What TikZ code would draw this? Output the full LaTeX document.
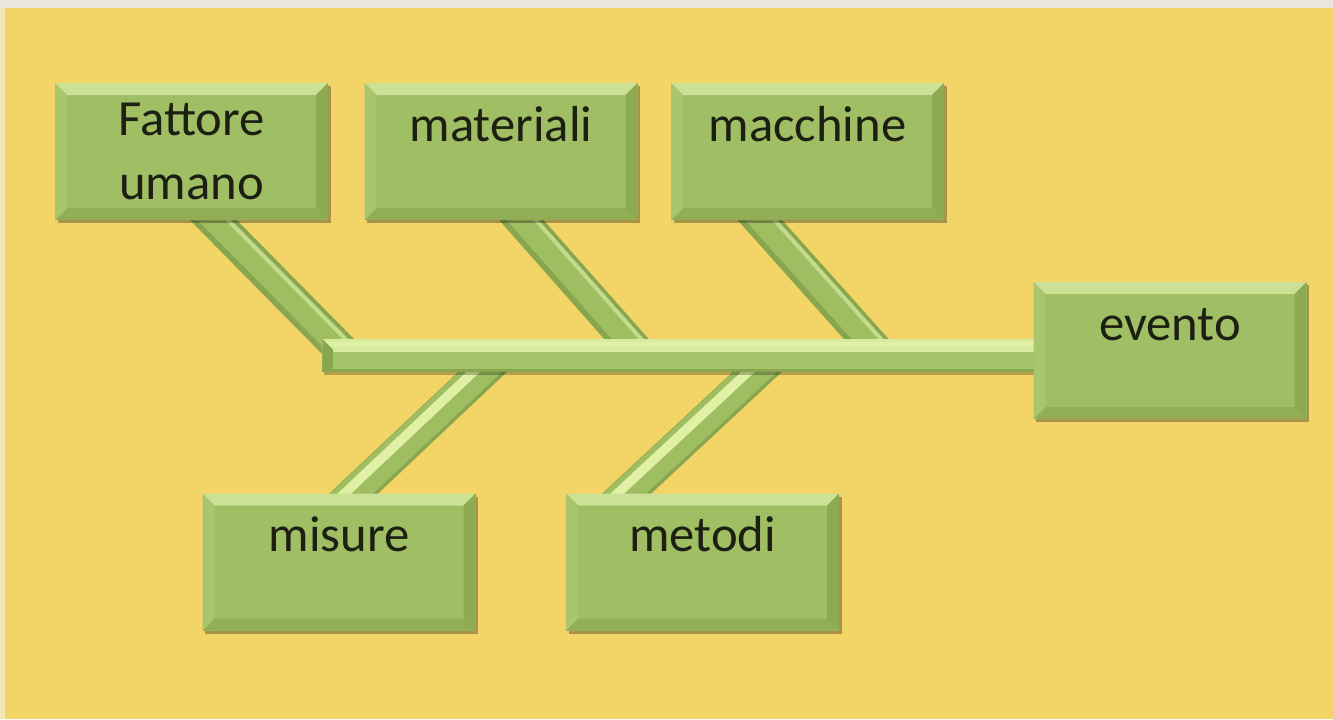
\documentclass[tikz,border=0pt]{standalone}
\usepackage{fontspec}
\setmainfont{Carlito}
\usetikzlibrary{positioning,calc,shadows,backgrounds}
\definecolor{fbyellow}{HTML}{F3D467}
\definecolor{fbgrey}{HTML}{E8E6DF}
\definecolor{fbpale}{HTML}{F4E6B4}
\definecolor{fbface}{HTML}{A0BE63}
\definecolor{fbtop}{HTML}{CBE195}
\definecolor{fbleft}{HTML}{A9C56D}
\definecolor{fbright}{HTML}{8DAA50}
\definecolor{fbbottom}{HTML}{91AE55}
\definecolor{fbtext}{HTML}{1C1F12}
\definecolor{bonedark}{HTML}{88A64D}
\definecolor{bonemid}{HTML}{9FBD61}
\definecolor{bonelight}{HTML}{C4DB8C}
\definecolor{bonepale}{HTML}{E0F1A6}
\definecolor{spinelight}{HTML}{D6EB9E}
\definecolor{spinemid}{HTML}{A5C368}
\pgfdeclarelayer{bones}
\pgfsetlayers{background,bones,main}

\begin{document}
\begin{tikzpicture}[
x=0.75pt,y=-0.75pt,
every node/.style={font=\fontsize{38}{48}\selectfont,text=fbtext},
box/.style={minimum width=204.75pt,minimum height=102.75pt,inner sep=0pt,align=center,fill=fbface,
  drop shadow={shadow xshift=2pt,shadow yshift=-2.5pt,opacity=.3,fill=black},
  path picture={
    \fill[fbtop] (path picture bounding box.north west) -- (path picture bounding box.north east)
      -- ++(-9pt,-9pt) -- ([xshift=9pt,yshift=-9pt]path picture bounding box.north west) -- cycle;
    \fill[fbbottom] (path picture bounding box.south west) -- (path picture bounding box.south east)
      -- ++(-9pt,9pt) -- ([xshift=9pt,yshift=9pt]path picture bounding box.south west) -- cycle;
    \fill[fbleft] (path picture bounding box.north west) -- ++(9pt,-9pt)
      -- ([xshift=9pt,yshift=9pt]path picture bounding box.south west) -- (path picture bounding box.south west) -- cycle;
    \fill[fbright] (path picture bounding box.north east) -- ++(-9pt,-9pt)
      -- ([xshift=-9pt,yshift=9pt]path picture bounding box.south east) -- (path picture bounding box.south east) -- cycle;
  }},
toptext/.style={text height=43.5pt,text depth=59.25pt},
spine/.style={minimum width=534.75pt,minimum height=24.75pt,inner sep=0pt,fill=spinemid,
  drop shadow={shadow xshift=1pt,shadow yshift=-2pt,opacity=.25,fill=black},
  path picture={
    \fill[spinelight] (path picture bounding box.north west) rectangle ([yshift=-10pt]path picture bounding box.north east);
    \fill[bonepale] ([yshift=-2pt]path picture bounding box.north west) rectangle ([yshift=-5pt]path picture bounding box.north east);
    \fill[bonedark] (path picture bounding box.south west) rectangle ([yshift=2pt]path picture bounding box.south east);
    \fill[bonedark] (path picture bounding box.north west) -- ++(8pt,-8pt)
      -- ([xshift=8pt,yshift=2pt]path picture bounding box.south west) -- (path picture bounding box.south west) -- cycle;
  }},
ubone/.style={line width=25pt,draw=bonedark,shorten <=-14pt,
  postaction={draw=bonemid,line width=18pt,transform canvas={xshift=1pt}},
  postaction={draw=bonelight,line width=3pt,transform canvas={xshift=11pt}}},
lbone/.style={line width=25pt,draw=bonedark,shorten <=-14pt,
  postaction={draw=bonemid,line width=22pt,transform canvas={xshift=-1.5pt}},
  postaction={draw=bonepale,line width=7pt,transform canvas={xshift=-7pt}}}
]
\useasboundingbox (0,0) rectangle (1333,719);
\begin{pgfonlayer}{background}
\fill[fbyellow] (0,0) rectangle (1333,719);
\fill[fbgrey] (0,0) rectangle (1333,8);
\fill[fbpale] (0,8) rectangle (5,719);
\end{pgfonlayer}

\node[spine,anchor=west] (spine) at (322,355.5) {};

\node[box] (fat) at (191.5,151.5) {Fattore\\umano};
\node[box,toptext,right=27pt of fat] (mat) {materiali};
\node[box,toptext,right=24.75pt of mat] (mac) {macchine};
\node[box,toptext] (eve) at (1170,350.5) {evento};
\node[box,toptext] (mis) at (339,562) {misure};
\node[box,toptext,right=67.5pt of mis] (met) {metodi};

\begin{pgfonlayer}{bones}
\draw[ubone] ($(fat.south)+(22,0)$) -- ($(spine.west)+(25,0)$);
\draw[ubone] ($(mat.south)+(20.5,0)$) -- ($(spine.west)+(319,0)$);
\draw[ubone] ($(mac.south)+(-47.5,0)$) -- ($(spine.west)+(559,0)$);
\draw[lbone] ($(mis.north)+(15,0)$) -- ($(spine.west)+(178,0)$);
\draw[lbone] ($(met.north)+(-75.5,0)$) -- ($(spine.west)+(453,0)$);
\end{pgfonlayer}
\end{tikzpicture}
\end{document}
